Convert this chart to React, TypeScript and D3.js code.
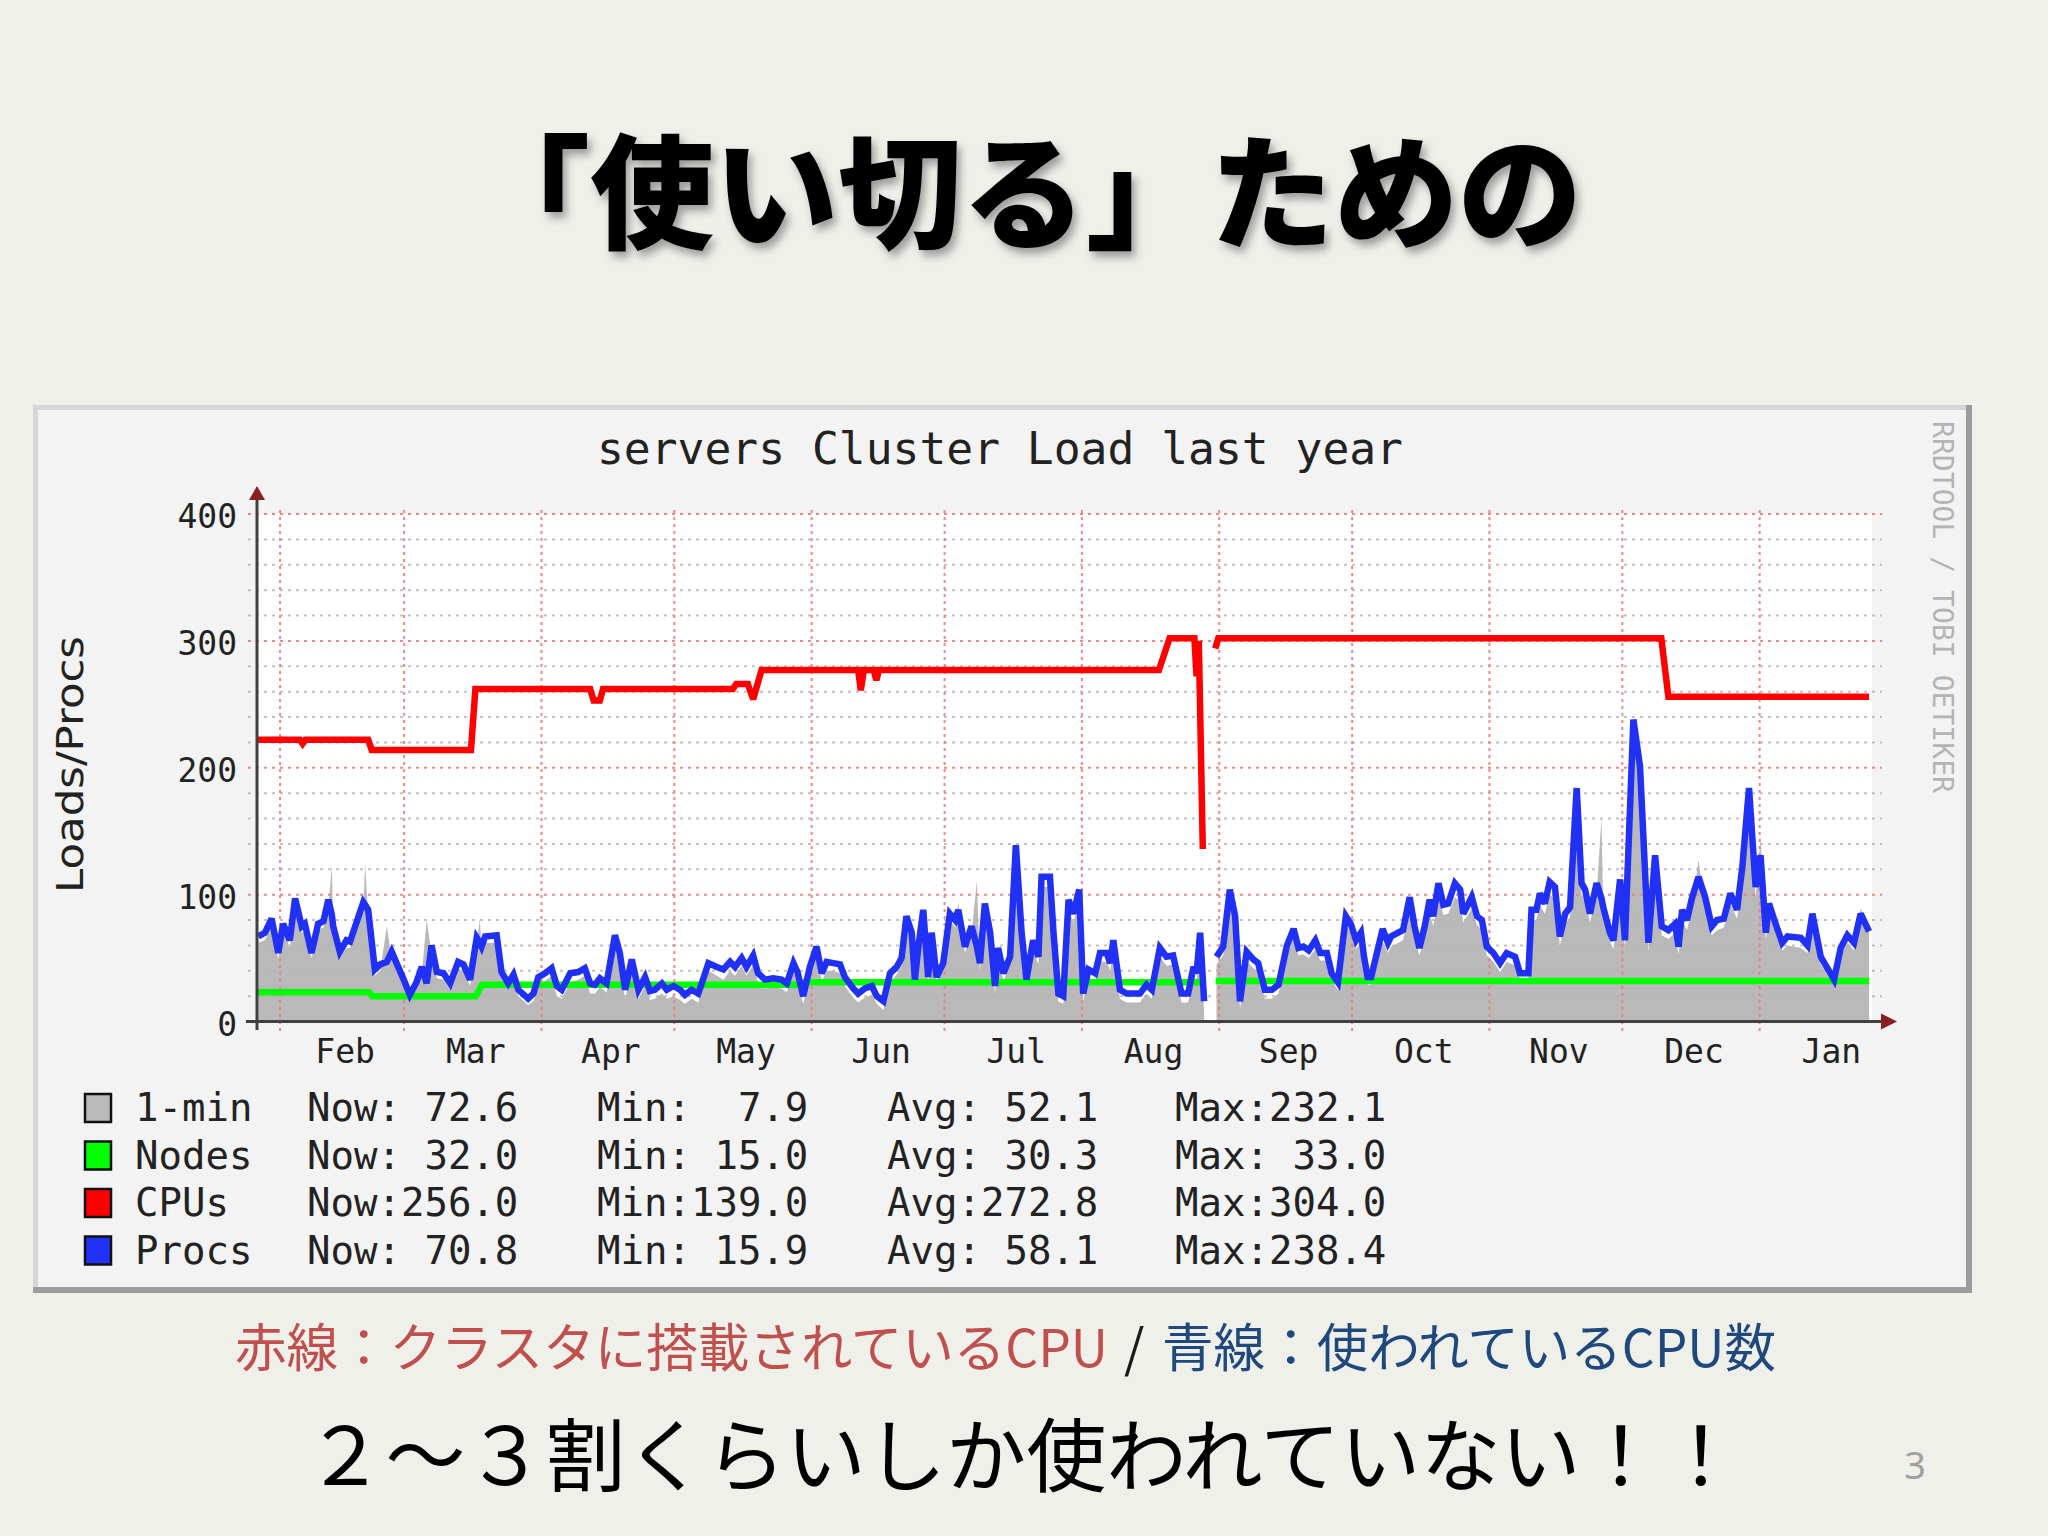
import React from 'react';
import * as d3 from 'd3';

// ---------- data ----------
const START = Date.UTC(2010, 0, 26, 19, 0);
const DAY = 86400000;
const SPAN_DAYS = 364;

const yTicks = [0, 100, 200, 300, 400];
const yGridStep = 20;
const monthLabels = ['Feb', 'Mar', 'Apr', 'May', 'Jun', 'Jul', 'Aug', 'Sep', 'Oct', 'Nov', 'Dec', 'Jan'];

// [day since start, value]
const procsSeries: [number, number | null][] = [
  [0.3,67],[1.8,70],[3.3,81],[4.8,54],[5.9,77],[7.4,64],[8.6,97],[10.1,75],[10.8,77],[12.3,54],[13.8,77],[15.0,79],[16.1,96],[16.9,84],[17.2,75],[18.7,55],[20.2,64],[21.0,63],[24.0,94],[24.4,92],[25.1,88],[26.6,41],[27.8,45],[29.3,47],[30.4,55],[31.5,46],[33.0,34],[34.5,21],[36.0,31],[37.2,43],[38.3,30],[39.4,60],[40.6,39],[42.1,38],[43.6,30],[45.4,47],[46.6,45],[48.1,33],[49.6,66],[50.3,62],[50.7,59],[51.5,67],[54.1,68],[55.2,39],[56.7,30],[57.9,37],[59.0,25],[61.2,18],
  [62.4,22],[63.5,35],[65.0,38],[66.5,42],[67.7,28],[68.8,25],[70.7,38],[72.5,39],[74.0,42],[75.2,30],[76.3,29],[77.4,34],[78.9,30],[80.8,68],[81.9,54],[83.1,25],[84.6,49],[86.1,25],[87.6,35],[88.7,24],[89.8,25],[91.4,30],[92.5,25],[94.0,28],[95.5,25],[96.6,21],[98.1,25],[99.6,22],[100.4,30],[101.9,46],[103.8,43],[105.3,41],[106.8,47],[107.9,43],[109.4,50],[110.5,43],[112.0,52],[113.1,38],[114.7,33],[116.5,34],[118.4,33],[119.6,30],[121.1,46],[122.0,39],[123.3,20],
  [124.8,43],[126.3,59],[127.5,38],[128.6,47],[130.1,46],[131.6,45],[132.7,35],[134.6,26],[135.7,22],[137.2,26],[138.8,28],[139.9,20],[141.4,16],[142.9,38],[144.4,43],[145.5,50],[146.6,83],[147.8,70],[148.5,33],[149.3,59],[150.4,88],[151.5,35],[152.3,70],[153.4,35],[154.9,46],[156.4,85],[157.6,80],[158.3,88],[159.8,59],[161.3,75],[162.5,59],[163.2,46],[164.3,93],[165.5,70],[166.6,28],[167.3,58],[168.5,38],[170.0,51],[171.3,139],[172.6,70],[173.7,33],[175.2,64],[176.4,51],[177.1,114],[179.0,114],[179.8,70],[180.9,22],[182.0,20],
  [183.2,96],[184.3,85],[185.6,104],[186.5,22],[187.7,41],[189.2,38],[190.3,54],[191.8,54],[192.6,46],[193.3,64],[194.8,25],[196.3,22],[199.3,22],[200.8,29],[202.0,25],[203.8,58],[205.3,51],[206.8,52],[208.7,22],[210.2,22],[211.4,43],[212.1,38],[212.9,70],[213.8,16],[215.0,null],[216.6,51],[218.1,59],[219.6,104],[220.8,83],[221.9,16],[223.4,55],[224.9,49],[226.0,46],[227.5,25],[229.1,25],[230.6,29],[232.5,60],[234.0,73],[235.1,58],[236.2,59],[237.4,56],[238.9,64],[240.0,54],[241.5,54],[242.6,38],
  [244.0,31],[245.8,83],[246.9,77],[248.1,64],[249.2,70],[249.9,51],[250.7,35],[251.5,35],[254.1,73],[255.3,62],[256.0,67],[258.7,72],[260.2,98],[261.3,75],[262.4,58],[263.6,75],[264.7,96],[265.5,83],[266.7,109],[267.8,92],[268.9,93],[270.4,109],[271.6,104],[272.3,85],[273.5,93],[274.2,98],[275.4,83],[276.5,80],[277.6,59],[279.1,54],[280.6,46],[282.1,54],[284.0,51],[285.1,38],[287.0,38],[287.7,88],[288.8,88],[289.6,101],[290.7,93],[291.8,110],[293.0,106],[294.1,67],[295.3,85],[296.4,90],[297.9,184],[299.0,109],[299.8,104],[300.9,85],[302.4,109],[303.5,97],[303.9,90],[305.4,70],[306.2,64],[307.7,112],[308.8,64],[310.7,238],[312.2,201],[314.1,62],[315.6,131],[317.1,75],[318.6,72],[320.1,77],[320.9,59],[321.7,88],[322.8,80],[323.9,97],[325.4,114],[326.9,98],[328.4,75],[329.6,80],[331.1,81],[332.6,101],[334.1,88],[335.3,122],[336.8,184],[338.3,106],[339.4,131],[340.6,70],[341.3,93],[342.8,77],[344.3,62],[345.5,67],[348.5,66],[350.0,60],[351.1,85],[353.0,51],[356.0,33],[357.5,58],[359.0,68],[360.5,62],[362.0,85],[363.9,71]
];

const load1Series: [number, number | null][] = [
  [0.3,62],[1.8,64],[3.3,75],[4.8,49],[5.9,72],[7.4,58],[8.6,92],[10.1,70],[10.8,71],[12.3,50],[13.8,72],[15.0,74],[16.1,90],[16.9,123],[17.2,70],[18.7,50],[20.2,58],[21.0,58],[24.0,88],[24.4,125],[25.1,83],[26.6,36],[27.8,40],[29.3,75],[30.4,50],[31.5,40],[33.0,29],[34.5,17],[36.0,26],[37.2,37],[38.3,80],[39.4,54],[40.6,34],[42.1,33],[43.6,25],[45.4,42],[46.6,40],[48.1,28],[49.6,60],[50.3,81],[50.7,55],[51.5,62],[54.1,62],[55.2,34],[56.7,25],[57.9,32],[59.0,20],[61.2,13],
  [62.4,16],[63.5,28],[65.0,32],[66.5,36],[67.7,20],[68.8,18],[70.7,31],[72.5,33],[74.0,36],[75.2,22],[76.3,22],[77.4,27],[78.9,23],[80.8,60],[81.9,46],[83.1,18],[84.6,40],[86.1,18],[87.6,28],[88.7,17],[89.8,18],[91.4,22],[92.5,18],[94.0,20],[95.5,17],[96.6,14],[98.1,18],[99.6,15],[100.4,24],[101.9,40],[103.8,36],[105.3,33],[106.8,40],[107.9,36],[109.4,44],[110.5,36],[112.0,45],[113.1,31],[114.7,26],[116.5,27],[118.4,26],[119.6,23],[121.1,39],[122.0,32],[123.3,14],
  [124.8,36],[126.3,52],[127.5,32],[128.6,40],[130.1,40],[131.6,38],[132.7,28],[134.6,19],[135.7,15],[137.2,19],[138.8,21],[139.9,14],[141.4,9],[142.9,31],[144.4,37],[145.5,44],[146.6,76],[147.8,63],[148.5,27],[149.3,52],[150.4,80],[151.5,29],[152.3,63],[153.4,30],[154.9,42],[156.4,80],[157.6,74],[158.3,94],[159.8,54],[161.3,69],[162.5,111],[163.2,40],[164.3,86],[165.5,64],[166.6,22],[167.3,52],[168.5,32],[170.0,45],[171.3,130],[172.6,63],[173.7,27],[175.2,57],[176.4,45],[177.1,106],[179.0,106],[179.8,63],[180.9,16],[182.0,14],
  [183.2,88],[184.3,78],[185.6,96],[186.5,16],[187.7,35],[189.2,32],[190.3,47],[191.8,47],[192.6,40],[193.3,57],[194.8,18],[196.3,15],[199.3,15],[200.8,22],[202.0,18],[203.8,51],[205.3,44],[206.8,45],[208.7,15],[210.2,15],[211.4,36],[212.1,32],[212.9,62],[213.8,8],[215.0,null],[216.6,45],[218.1,52],[219.6,96],[220.8,76],[221.9,10],[223.4,48],[224.9,42],[226.0,40],[227.5,18],[229.1,18],[230.6,22],[232.5,53],[234.0,66],[235.1,52],[236.2,53],[237.4,50],[238.9,57],[240.0,48],[241.5,48],[242.6,32],
  [244.0,25],[245.8,76],[246.9,70],[248.1,57],[249.2,63],[249.9,45],[250.7,29],[251.5,29],[254.1,63],[255.3,54],[256.0,59],[258.7,64],[260.2,88],[261.3,67],[262.4,52],[263.6,67],[264.7,86],[265.5,75],[266.7,98],[267.8,84],[268.9,85],[270.4,98],[271.6,95],[272.3,78],[273.5,85],[274.2,89],[275.4,76],[276.5,72],[277.6,52],[279.1,47],[280.6,39],[282.1,47],[284.0,44],[285.1,32],[287.0,32],[287.7,80],[288.8,80],[289.6,92],[290.7,85],[291.8,100],[293.0,97],[294.1,60],[295.3,77],[296.4,82],[297.9,172],[299.0,100],[299.8,96],[300.9,78],[302.4,100],[303.5,161],[303.9,85],[305.4,63],[306.2,57],[307.7,104],[308.8,57],[310.7,232],[312.2,192],[314.1,55],[315.6,122],[317.1,68],[318.6,65],[320.1,70],[320.9,53],[321.7,80],[322.8,72],[323.9,89],[325.4,127],[326.9,90],[328.4,68],[329.6,72],[331.1,74],[332.6,93],[334.1,81],[335.3,114],[336.8,172],[338.3,98],[339.4,145],[340.6,64],[341.3,85],[342.8,70],[344.3,56],[345.5,60],[348.5,58],[350.0,54],[351.1,76],[353.0,45],[356.0,28],[357.5,52],[359.0,62],[360.5,56],[362.0,89],[363.9,73]
];

const nodesSeries: [number, number | null][] = [
  [0,23],[25.3,23],[26.0,20],[49.4,20],[50.8,29],[122.0,29],[122.6,31],[213.8,31],[215.0,null],[216.4,32],[363.9,32]
];

const cpusSeries: [number, number | null][] = [
  [0,222],[9.7,222],[10.3,219],[10.9,222],[25.1,222],[25.9,214],[48.3,214],[49.3,262],[75.2,262],[76.0,253],[77.4,253],[78.1,262],
  [107.4,262],[108.2,266],[110.8,266],[112.0,254],[113.9,277],[135.7,277],[136.3,261],[137.0,277],[139.2,277],[139.8,269],[140.4,277],
  [203.6,277],[206.0,302],[211.6,302],[212.1,272],[212.6,300],[213.5,136],[215.0,null],[216.3,294],[217.0,302],[317.0,302],[318.6,256],[363.9,256]
];

const legendNames = ['1-min', 'Nodes', 'CPUs', 'Procs'];
const legendNow = ['72.6', '32.0', '256.0', '70.8'];
const legendMin = ['7.9', '15.0', '139.0', '15.9'];
const legendAvg = ['52.1', '30.3', '272.8', '58.1'];
const legendMax = ['232.1', '33.0', '304.0', '238.4'];

const slideTitle = '「使い切る」ための';
const chartTitle = 'servers Cluster Load last year';
const yAxisTitle = 'Loads/Procs';
const watermark = 'RRDTOOL / TOBI OETIKER';
const captionRed = '赤線：クラスタに搭載されているCPU';
const captionSlash = '/';
const captionBlue = '青線：使われているCPU数';
const conclusion = '２〜３割くらいしか使われていない！！';
const pageNumber = '3';

// ---------- styling ----------
const COL_LOAD = '#b9b9b9';
const COL_NODES = '#00ff00';
const COL_CPUS = '#ff0000';
const COL_PROCS = '#2030f4';
const legendColors = [COL_LOAD, COL_NODES, COL_CPUS, COL_PROCS];
const MONO = '"DejaVu Sans Mono", monospace';
const CJK = '"Noto Sans CJK JP", sans-serif';

type Pt = { t: Date; v: number | null };
const toPts = (s: [number, number | null][]): Pt[] =>
  s.map(([d, v]) => ({ t: new Date(START + d * DAY), v }));

export default function App() {
  const start = new Date(START);
  const end = new Date(START + SPAN_DAYS * DAY);
  const x = d3.scaleUtc().domain([start, end]).range([257, 1869.5]);
  const y = d3.scaleLinear().domain([0, 400]).range([1021.5, 514]);

  const line = d3
    .line<Pt>()
    .defined((d) => d.v != null)
    .x((d) => x(d.t))
    .y((d) => y(d.v as number));
  const area = d3
    .area<Pt>()
    .defined((d) => d.v != null)
    .x((d) => x(d.t))
    .y0(y(0))
    .y1((d) => y(d.v as number));

  const months = d3.utcMonth.range(d3.utcMonth.ceil(start), end);
  const gridVals = d3.range(yGridStep, 400 + 1, yGridStep);

  const legendRowY = [1121, 1168.5, 1216, 1263.5];
  const fmt = (s: string) => s.padStart(5, '\u00a0');
  const pre = { whiteSpace: 'pre' as const };

  return (
    <svg
      width={2048}
      height={1536}
      viewBox="0 0 2048 1536"
      style={{ position: 'absolute', left: 0, top: 0, display: 'block' }}
    >
      <defs>
        <filter id="shadow" x="-10%" y="-30%" width="120%" height="160%">
          <feDropShadow dx="4" dy="6" stdDeviation="4" floodColor="#000" floodOpacity="0.35" />
        </filter>
      </defs>
      <rect x={0} y={0} width={2048} height={1536} fill="#f0f0eb" />

      {/* slide title */}
      <text
        x={466}
        y={239}
        fontFamily={CJK}
        fontWeight={900}
        fontSize={124}
        fill="#000"
        filter="url(#shadow)"
      >
        {slideTitle}
      </text>

      {/* chart panel */}
      <rect x={33} y={405} width={1939} height={888} fill="#f3f3f3" />
      <rect x={33} y={405} width={1939} height={5} fill="#d6d6d6" />
      <rect x={33} y={405} width={5} height={888} fill="#d6d6d6" />
      <rect x={1966} y={405} width={6} height={888} fill="#9c9c9c" />
      <rect x={33} y={1287} width={1939} height={6} fill="#9c9c9c" />

      {/* plot canvas */}
      <rect x={257} y={514} width={1615} height={507.5} fill="#ffffff" />

      {/* 1-min area */}
      <path d={area(toPts(load1Series)) || ''} fill={COL_LOAD} />

      {/* grid */}
      <g>
        {gridVals.map((v) => {
          const major = v % 100 === 0;
          return (
            <line
              key={'h' + v}
              x1={248}
              x2={1882}
              y1={y(v)}
              y2={y(v)}
              stroke={major ? '#f07a7a' : '#b4b4b4'}
              strokeWidth={2}
              strokeDasharray="3,5"
              opacity={major ? 0.9 : 0.8}
            />
          );
        })}
        {months.map((m, i) => (
          <line
            key={'v' + i}
            x1={x(m)}
            x2={x(m)}
            y1={510}
            y2={1031}
            stroke="#f07a7a"
            strokeWidth={2}
            strokeDasharray="3,4"
            opacity={0.9}
          />
        ))}
      </g>

      {/* lines */}
      <path d={line(toPts(nodesSeries)) || ''} fill="none" stroke={COL_NODES} strokeWidth={6.5} strokeLinejoin="miter" strokeMiterlimit={3} />
      <path d={line(toPts(cpusSeries)) || ''} fill="none" stroke={COL_CPUS} strokeWidth={6.5} strokeLinejoin="miter" strokeMiterlimit={3} />
      <path d={line(toPts(procsSeries)) || ''} fill="none" stroke={COL_PROCS} strokeWidth={6.5} strokeLinejoin="miter" strokeMiterlimit={3} />

      {/* axes */}
      <line x1={257} x2={257} y1={1030} y2={498} stroke="#404040" strokeWidth={3} />
      <polygon points="249,500 265,500 257,486" fill="#8b1e1e" />
      <line x1={246} x2={1882} y1={y(0)} y2={y(0)} stroke="#404040" strokeWidth={3} />
      <polygon points="1881,1013.5 1881,1029.5 1897,1021.5" fill="#8b1e1e" />

      {/* y tick labels */}
      {yTicks.map((v) => (
        <text key={'yt' + v} x={237} y={y(v) + 14} textAnchor="end" fontFamily={MONO} fontSize={33} fill="#222">
          {v}
        </text>
      ))}

      {/* x month labels */}
      {months.map((m, i) => {
        const mid = new Date((+m + +d3.utcMonth.offset(m, 1)) / 2);
        return (
          <text key={'xl' + i} x={x(mid) + 3} y={1063} textAnchor="middle" fontFamily={MONO} fontSize={33} fill="#222">
            {monthLabels[i]}
          </text>
        );
      })}

      {/* chart title */}
      <text x={597} y={464} fontFamily={MONO} fontSize={44} fill="#222" textLength={806} lengthAdjust="spacingAndGlyphs">
        {chartTitle}
      </text>

      {/* y axis title */}
      <text
        transform="translate(83,764.5) rotate(-90)"
        textAnchor="middle"
        fontFamily='"DejaVu Sans", sans-serif'
        fontSize={38}
        fill="#222"
        textLength={257}
        lengthAdjust="spacingAndGlyphs"
      >
        {yAxisTitle}
      </text>

      {/* watermark */}
      <text
        transform="translate(1933,421) rotate(90)"
        fontFamily={MONO}
        fontSize={28}
        fill="#b4b4b4"
        textLength={372}
        lengthAdjust="spacingAndGlyphs"
      >
        {watermark}
      </text>

      {/* legend */}
      {legendNames.map((n, i) => (
        <g key={'lg' + i} fontFamily={MONO} fontSize={39} fill="#222">
          <rect x={85} y={legendRowY[i] - 27} width={26} height={28} fill={legendColors[i]} stroke="#111" strokeWidth={2.5} />
          <text x={135} y={legendRowY[i]} style={pre}>{n}</text>
          <text x={307} y={legendRowY[i]} style={pre}>{'Now:' + fmt(legendNow[i])}</text>
          <text x={597} y={legendRowY[i]} style={pre}>{'Min:' + fmt(legendMin[i])}</text>
          <text x={887} y={legendRowY[i]} style={pre}>{'Avg:' + fmt(legendAvg[i])}</text>
          <text x={1175} y={legendRowY[i]} style={pre}>{'Max:' + fmt(legendMax[i])}</text>
        </g>
      ))}

      {/* captions */}
      <text x={235} y={1367} fontFamily={CJK} fontSize={52} fill="#c0504d" textLength={873} lengthAdjust="spacingAndGlyphs">
        {captionRed}
      </text>
      <text x={1124} y={1367} fontFamily={CJK} fontSize={52} fill="#1a1a1a">
        {captionSlash}
      </text>
      <text x={1162} y={1367} fontFamily={CJK} fontSize={52} fill="#1f497d" textLength={614} lengthAdjust="spacingAndGlyphs">
        {captionBlue}
      </text>
      <text x={305} y={1485} fontFamily={CJK} fontSize={80} fill="#000" textLength={1436} lengthAdjust="spacingAndGlyphs">
        {conclusion}
      </text>
      <text x={1915} y={1479} textAnchor="middle" fontFamily='"Noto Sans", sans-serif' fontSize={38} fill="#a0a0a0">
        {pageNumber}
      </text>
    </svg>
  );
}
